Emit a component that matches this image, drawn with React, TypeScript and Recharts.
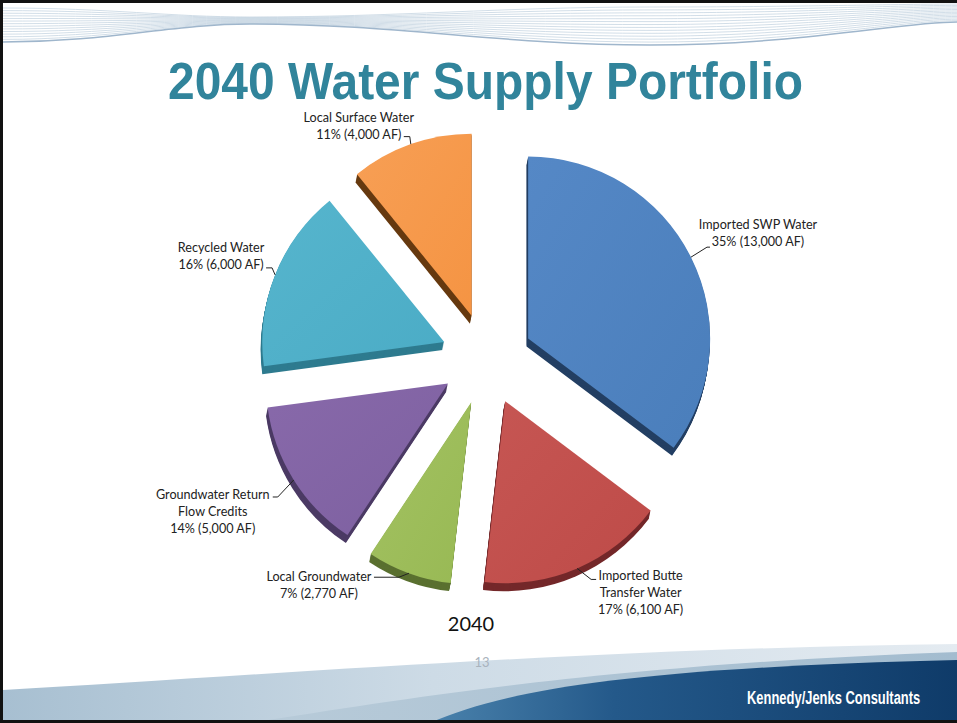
import React from "react";
import { PieChart, Pie, Cell, Sector } from "recharts";

// ---------- data ----------
const categories = [
  "Imported SWP Water",
  "Imported Butte Transfer Water",
  "Local Groundwater",
  "Groundwater Return Flow Credits",
  "Recycled Water",
  "Local Surface Water",
];
const labelNameLines = [
  ["Imported SWP Water"],
  ["Imported Butte", "Transfer Water"],
  ["Local Groundwater"],
  ["Groundwater Return", "Flow Credits"],
  ["Recycled Water"],
  ["Local Surface Water"],
];
const acreFeet = [13000, 6100, 2770, 5000, 6000, 4000];
const acreFeetText = ["13,000 AF", "6,100 AF", "2,770 AF", "5,000 AF", "6,000 AF", "4,000 AF"];
const percentText = ["35%", "17%", "7%", "14%", "16%", "11%"];
const chartYear = "2040";
const slideTitle = "2040 Water Supply Portfolio";
const pageNumber = "13";
const companyName = "Kennedy/Jenks Consultants";

// ---------- styles / layout ----------
const COLORS = ["#4A7EBB", "#BE4B48", "#98B954", "#7D60A0", "#4BACC6", "#F59443"];
const LIGHT = ["#5588c6", "#c65653", "#a3c262", "#8869aa", "#56b5cd", "#f79f55"];
const SIDES = ["#233f63", "#74282a", "#5a7030", "#4b3a64", "#2e7b8f", "#66390f"];
const EXPLODE = 46;
const DEPTH = 8;
const RAD = Math.PI / 180;

// label layout relative to leader anchor on the arc (mid angle)
const LABEL_LAYOUT = [
  { tx: 67, ty: -28.5, path: [[16, -10], [19, -10]] },
  { tx: 63.5, ty: 12, path: [[14, 11], [19, 11]] },
  { tx: -90, ty: 7.5, path: [[-10, 4], [-35, 4]] },
  { tx: -81, ty: 19, path: [[-16, 17], [-21, 17]] },
  { tx: -54, ty: -23, path: [[-3, -7], [-9, -7]] },
  { tx: -52, ty: -22.5, path: [[-1, -7.5], [-7, -7.5]] },
];
const LINE_H = 17;

const data = categories.map((name, i) => ({ name, value: acreFeet[i] }));

function idxOf(props: any): number {
  if (typeof props.index === "number") return props.index;
  const n = props.name ?? props.payload?.name;
  return Math.max(0, categories.indexOf(n));
}

function ExplodedSlice(props: any) {
  const { cx, cy, innerRadius, outerRadius, startAngle, endAngle, midAngle } = props;
  const i = idxOf(props);
  const dx = EXPLODE * Math.cos(-midAngle * RAD);
  const dy = EXPLODE * Math.sin(-midAngle * RAD);
  const layers = [];
  for (let k = DEPTH; k >= 1; k--) {
    layers.push(
      <Sector
        key={k}
        cx={cx + dx - k * 0.2}
        cy={cy + dy + k}
        innerRadius={innerRadius}
        outerRadius={outerRadius}
        startAngle={startAngle}
        endAngle={endAngle}
        fill={SIDES[i]}
        stroke="none"
      />
    );
  }
  return (
    <g>
      {layers}
      <Sector
        cx={cx + dx}
        cy={cy + dy}
        innerRadius={innerRadius}
        outerRadius={outerRadius}
        startAngle={startAngle}
        endAngle={endAngle}
        fill={`url(#sliceGrad${i})`}
        stroke="none"
      />
    </g>
  );
}

function renderLabel(props: any) {
  const { cx, cy, midAngle, outerRadius } = props;
  const i = idxOf(props);
  const R = outerRadius + EXPLODE;
  const ax = cx + R * Math.cos(-midAngle * RAD);
  const ay = cy + R * Math.sin(-midAngle * RAD);
  const lay = LABEL_LAYOUT[i];
  const pts = [[ax, ay], ...lay.path.map(([px, py]) => [ax + px, ay + py])];
  const d = pts.map((p, k) => `${k === 0 ? "M" : "L"}${p[0]},${p[1]}`).join(" ");
  const lines = [...labelNameLines[i], `${percentText[i]} (${acreFeetText[i]})`];
  return (
    <g key={`lbl-${i}`}>
      <path d={d} stroke="#222" strokeWidth={1} fill="none" />
      <text
        x={ax + lay.tx}
        y={ay + lay.ty}
        textAnchor="middle"
        fontFamily="Lato, 'Open Sans', sans-serif"
        fontSize={12.6}
        fill="#222"
      >
        {lines.map((l, k) => (
          <tspan key={k} x={ax + lay.tx} dy={k === 0 ? 0 : LINE_H}>
            {l}
          </tspan>
        ))}
      </text>
    </g>
  );
}

function Background() {
  const waves = [];
  for (let i = 0; i < 14; i++) {
    const t = i / 13;
    const y0 = 8 + 34 * t;
    const y1 = 17 + 7 * t;
    const y2 = 7 + 38 * t;
    const y3 = 4 + 18 * t;
    waves.push(
      <path
        key={i}
        d={`M3,${y0} C110,${y0} 170,${y1} 250,${y1} C400,${y1} 500,${y2} 650,${y2} C800,${y2} 900,${y3} 957,${y3}`}
        stroke={i === 13 ? "#9fb6cc" : "#c7d5e2"}
        strokeWidth={i === 13 ? 1.5 : 0.8}
        fill="none"
      />
    );
  }
  return (
    <svg width={957} height={723} style={{ position: "absolute", left: 0, top: 0 }}>
      <defs>
        {COLORS.map((c, i) => (
          <linearGradient key={i} id={`sliceGrad${i}`} x1="0" y1="0" x2="1" y2="1">
            <stop offset="0%" stopColor={LIGHT[i]} />
            <stop offset="100%" stopColor={c} />
          </linearGradient>
        ))}
        <linearGradient id="footLight" x1="0" y1="0" x2="1" y2="0">
          <stop offset="0%" stopColor="#a7bfd1" />
          <stop offset="45%" stopColor="#cddbe6" />
          <stop offset="100%" stopColor="#e4ebf1" />
        </linearGradient>
        <linearGradient id="footMid" x1="0" y1="0" x2="1" y2="0">
          <stop offset="0%" stopColor="#b8cbd9" />
          <stop offset="100%" stopColor="#a3bccf" />
        </linearGradient>
        <linearGradient id="footDark" x1="0" y1="0" x2="1" y2="0">
          <stop offset="0%" stopColor="#4a82ac" />
          <stop offset="35%" stopColor="#24598a" />
          <stop offset="100%" stopColor="#0f3b69" />
        </linearGradient>
      </defs>
      <rect x={0} y={0} width={957} height={723} fill="#ffffff" />
      {waves}
      <path d="M3,690 C250,676 600,648 957,644 L957,723 L3,723 Z" fill="url(#footLight)" />
      <path d="M250,723 C420,696 620,664 957,652 L957,723 Z" fill="url(#footMid)" />
      <path d="M430,723 C500,692 620,668 957,660 L957,723 Z" fill="url(#footDark)" />
      <text
        x={485.5}
        y={99}
        textAnchor="middle"
        fontFamily="'Liberation Sans', Arial, sans-serif"
        fontWeight="bold"
        fontSize={52}
        fill="#31849B"
        textLength={635}
        lengthAdjust="spacingAndGlyphs"
      >
        {slideTitle}
      </text>
      <text x={471} y={631} textAnchor="middle" fontFamily="Lato, sans-serif" fontSize={20} fill="#111">
        {chartYear}
      </text>
      <text x={482} y={667} textAnchor="middle" fontFamily="Lato, sans-serif" fontSize={13} fill="#a9b3bd">
        {pageNumber}
      </text>
      <g transform="translate(747,704) scale(0.70,1)">
        <text
          x={0}
          y={0}
          fontFamily="'Liberation Sans', Arial, sans-serif"
          fontWeight="bold"
          fontSize={18.5}
          fill="#ffffff"
        >
          {companyName}
        </text>
      </g>
      <path d="M1.5,723 L1.5,1.5 L957,1.5" stroke="#111" strokeWidth={3} fill="none" />
      <path d="M0,721.5 L957,721.5" stroke="#111" strokeWidth={3} />
    </svg>
  );
}

export default function App() {
  return (
    <div style={{ position: "absolute", left: 0, top: 0, width: 957, height: 723, overflow: "hidden" }}>
      <Background />
      <div style={{ position: "absolute", left: 0, top: 0 }}>
        <PieChart width={957} height={723} margin={{ top: 0, right: 0, bottom: 0, left: 0 }}>
          <Pie
            data={data}
            dataKey="value"
            nameKey="name"
            cx={487}
            cy={359}
            innerRadius={0}
            outerRadius={182}
            startAngle={90}
            endAngle={-270}
            stroke="none"
            isAnimationActive={false}
            shape={ExplodedSlice}
            label={renderLabel}
            labelLine={false}
          >
            {data.map((d, i) => (
              <Cell key={d.name} fill={COLORS[i]} />
            ))}
          </Pie>
        </PieChart>
      </div>
    </div>
  );
}
